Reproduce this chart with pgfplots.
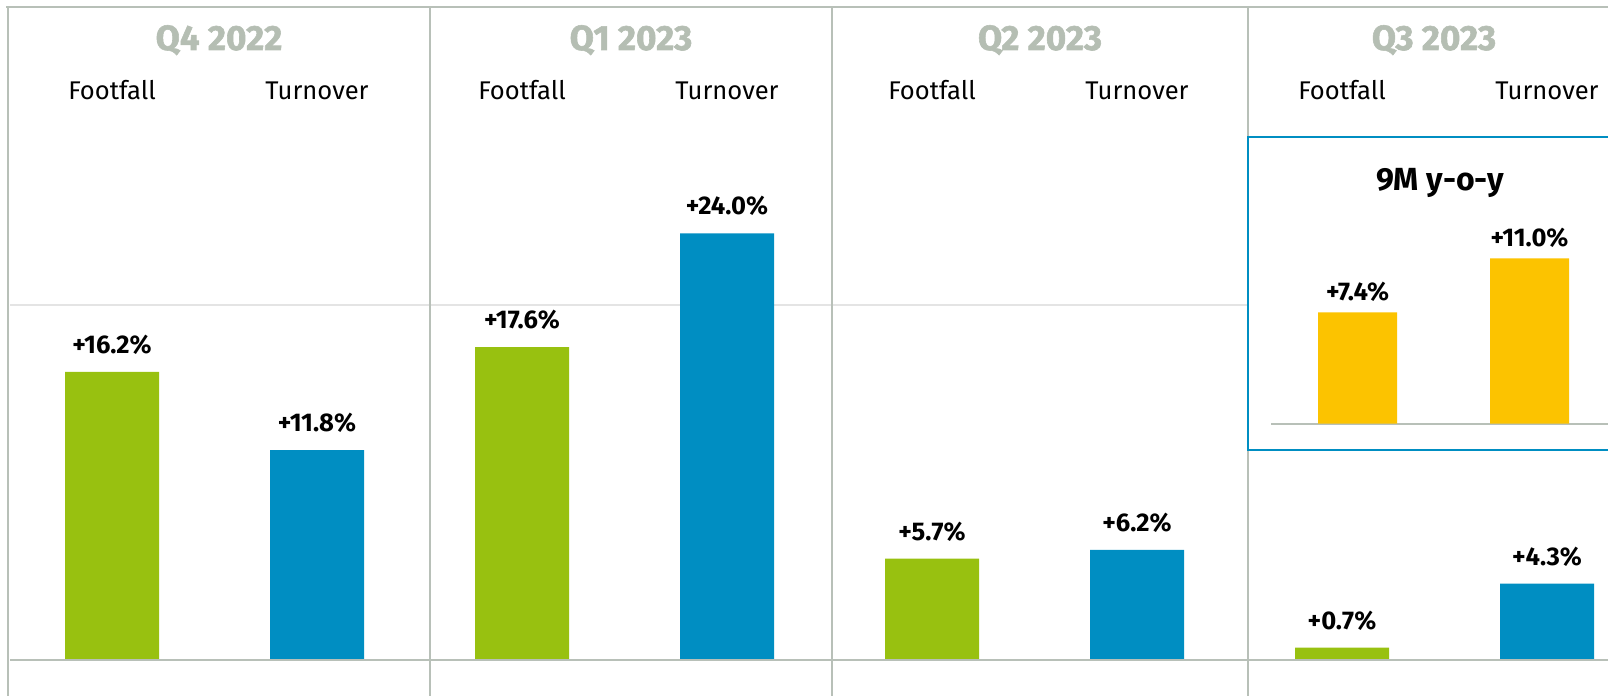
\documentclass[border=0pt]{standalone}
\usepackage{pgfplots}
\pgfplotsset{compat=1.18}
\usepackage{fontspec}
\setmainfont{Fira Sans}
\newfontfamily\heavyfont{Fira Sans}[BoldFeatures={FakeBold=1.6}]
\definecolor{cgreen}{HTML}{98C110}
\definecolor{cblue}{HTML}{008EC2}
\definecolor{cyellow}{HTML}{FCC300}
\definecolor{cline}{HTML}{B8C0B8}
\definecolor{ctitle}{HTML}{B5BEB3}
\definecolor{cgrid}{HTML}{E4E4E4}
\tikzset{px/.style={x=0.5pt,y=-0.5pt,shift={(0pt,348pt)}}}
\begin{document}
\begin{tikzpicture}
\path[use as bounding box] (0,0) rectangle (804pt,348pt);
\begin{scope}[px]
 \draw[cgrid, line width=0.75pt] (10,305) -- (1610,305);
 \draw[cline, line width=1.1pt] (6,7) -- (1612,7);
 \foreach \x in {8,430,832,1248} \draw[cline, line width=1.1pt] (\x,7) -- (\x,700);
\end{scope}
\begin{axis}[at={(0pt,0pt)}, anchor=south west,
  width=804pt, height=348pt, scale only axis,
  xmin=0, xmax=1608, ymin=-2.025, ymax=37.12,
  hide axis, clip=false,
  /pgf/number format/assume math mode=true,
  nodes near coords={+\pgfmathprintnumber[fixed,fixed zerofill,precision=1,assume math mode=true]{\pgfplotspointmeta}\%},
  every node near coord/.style={anchor=base, yshift=9.25pt, inner sep=0pt, text=black,
    font=\fontsize{12.8}{15}\selectfont\bfseries}]
 \addplot[ybar, bar width=94, bar shift=0, fill=cgreen, draw=none]
   coordinates {(112,16.2) (522,17.6) (932,5.7) (1342,0.7)};
 \addplot[ybar, bar width=94, bar shift=0, fill=cblue, draw=none]
   coordinates {(317,11.8) (727,24.0) (1137,6.2) (1547,4.3)};
\end{axis}
\begin{scope}[px]
 \draw[cline, line width=1.1pt] (10,660) -- (1612,660);
 \draw[cblue, line width=1pt, fill=white] (1248,137) rectangle (1630,450);
 \draw[cline, line width=0.8pt] (1271,424) -- (1612,424);
\end{scope}
\begin{axis}[at={(0pt,0pt)}, anchor=south west,
  width=804pt, height=348pt, scale only axis,
  xmin=0, xmax=1608, ymin=-18.133, ymax=28.267,
  hide axis, clip=false,
  /pgf/number format/assume math mode=true,
  nodes near coords={+\pgfmathprintnumber[fixed,fixed zerofill,precision=1,assume math mode=true]{\pgfplotspointmeta}\%},
  every node near coord/.style={anchor=base, yshift=6pt, inner sep=0pt, text=black,
    font=\fontsize{12.8}{15}\selectfont\bfseries}]
 \addplot[ybar, bar width=79, bar shift=0, fill=cyellow, draw=none]
   coordinates {(1357.5,7.4) (1529.5,11.0)};
\end{axis}
\begin{scope}[px]
 \foreach \x/\t in {219/Q4 2022, 631/Q1 2023, 1040/Q2 2023, 1434/Q3 2023}
   \node[anchor=base, inner sep=0pt, text=ctitle, font=\heavyfont\fontsize{17.5}{20}\selectfont\bfseries] at (\x,50) {\t};
 \foreach \x in {112,522,932,1342}
   \node[anchor=base, inner sep=0pt, font=\fontsize{12.8}{15}\selectfont] at (\x,100) {Footfall};
 \foreach \x in {317,727,1137,1547}
   \node[anchor=base, inner sep=0pt, font=\fontsize{12.8}{15}\selectfont] at (\x,100) {Turnover};
 \node[anchor=base, inner sep=0pt, font=\fontsize{16}{18}\selectfont\bfseries] at (1440,191) {9M y-o-y};
\end{scope}
\end{tikzpicture}
\end{document}
